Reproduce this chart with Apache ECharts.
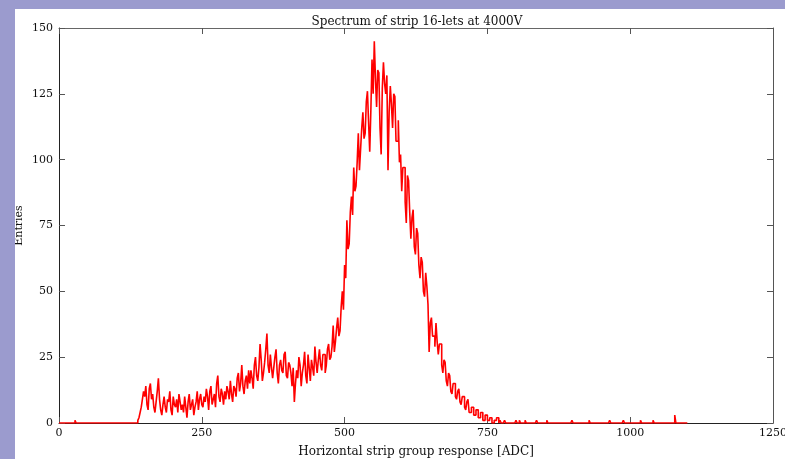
<!DOCTYPE html>
<html>
<head>
<meta charset="utf-8">
<script src="https://cdn.jsdelivr.net/npm/echarts@6/dist/echarts.min.js"></script>
<style>
  html, body { margin: 0; padding: 0; background: #9b9bce; }
  body { width: 785px; height: 459px; position: relative; overflow: hidden; }
  #chart { position: absolute; left: 15px; top: 9px; width: 770px; height: 450px; background: #ffffff; }
</style>
</head>
<body>
<div id="chart"></div>
<script>
// Histogram of strip-group response, 2 ADC counts per bin
var binWidth = 2;
var histMin = 0;
var histMax = 1100;

// Bulk of the spectrum, first bin starts at 136 ADC (20 bins per row)
var mainStart = 136;
var mainCounts = [
  0, 1, 2, 4, 6, 9, 12, 10, 14, 7, 5, 13, 15, 9, 11, 6, 4, 8, 12, 17,                 // 136-174
  9, 5, 3, 7, 10, 6, 4, 9, 8, 12, 5, 3, 10, 7, 6, 9, 4, 11, 8, 5,                      // 176-214
  7, 4, 10, 6, 2, 8, 11, 5, 7, 9, 3, 6, 8, 12, 5, 9, 11, 7, 6, 10,                     // 216-254
  8, 13, 10, 5, 12, 14, 7, 9, 11, 6, 15, 18, 10, 8, 13, 11, 7, 12, 9, 14,              // 256-294
  12, 9, 16, 11, 8, 14, 13, 10, 17, 19, 12, 15, 22, 14, 11, 16, 18, 13, 20, 15,        // 296-334
  20, 17, 13, 22, 25, 18, 16, 21, 30, 24, 16, 19, 23, 28, 34, 22, 19, 26, 21, 17,      // 336-374
  21, 25, 28, 19, 15, 22, 24, 20, 19, 26, 27, 18, 17, 23, 22, 19, 14, 21, 8, 15,       // 376-414
  20, 17, 25, 22, 14, 19, 22, 27, 18, 15, 26, 21, 16, 24, 21, 18, 29, 23, 19, 24,      // 416-454
  28, 22, 20, 26, 26, 19, 22, 28, 30, 24, 25, 29, 37, 27, 31, 36, 40, 33, 35, 44,      // 456-494
  50, 43, 60, 55, 77, 66, 68, 80, 86, 79, 97, 88, 90, 99, 110, 96, 104, 112, 118, 108, // 496-534
  110, 122, 126, 114, 103, 119, 138, 125, 145, 131, 120, 134, 133, 112, 102, 127, 137, 129, 125, 132, // 536-574
  96, 118, 128, 121, 112, 125, 124, 107, 107, 115, 99, 102, 88, 97, 97, 84, 76, 94, 92, 80,           // 576-614
  70, 78, 81, 67, 64, 74, 72, 60, 55, 63, 61, 50, 48, 57, 52, 45, 27, 38, 40, 33,      // 616-654
  33, 29, 38, 31, 26, 30, 30, 22, 19, 24, 23, 16, 14, 19, 18, 12, 11, 15, 15, 10,      // 656-694
  9, 12, 13, 8, 7, 10, 10, 6, 5, 8, 9, 4, 4, 6, 6, 3, 3, 5, 5, 2,                      // 696-734
  2, 4, 4, 1, 1, 3, 3, 1, 1, 2, 2, 0, 0, 1, 1, 2, 2, 0, 1, 0                           // 736-774
];

// Isolated entries outside the bulk: [bin start ADC, count]
var sparseBins = [
  [28, 1], [780, 1], [800, 1], [806, 1], [816, 1], [836, 1], [854, 1],
  [898, 1], [928, 1], [964, 1], [988, 1], [1018, 1], [1040, 1], [1078, 3]
];

var xTicks = [0, 250, 500, 750, 1000, 1250];
var yTicks = [0, 25, 50, 75, 100, 125, 150];

// Assemble the full binned histogram
var nBins = Math.round((histMax - histMin) / binWidth);
var counts = new Array(nBins).fill(0);
mainCounts.forEach(function (c, i) {
  counts[Math.round((mainStart - histMin) / binWidth) + i] = c;
});
sparseBins.forEach(function (b) {
  counts[Math.round((b[0] - histMin) / binWidth)] = b[1];
});
var stepData = counts.map(function (c, i) { return [histMin + i * binWidth, c]; });
stepData.push([histMax, 0]);

var serif = 'DejaVu Serif';
var frameColor = '#222222';
var tickColor = '#555555';

var chart = echarts.init(document.getElementById('chart'), null, { renderer: 'canvas' });
chart.setOption({
  animation: false,
  backgroundColor: '#ffffff',
  title: {
    text: 'Spectrum of strip 16-lets at 4000V',
    left: 412 - 15, top: 2,
    textAlign: 'center',
    textStyle: { fontFamily: serif, fontSize: 12, fontWeight: 'normal', color: '#111' }
  },
  grid: { left: 44, top: 19, right: 12, bottom: 36, containLabel: false, outerBoundsMode: 'none' },
  xAxis: [{
    type: 'value', min: xTicks[0], max: xTicks[xTicks.length - 1], interval: 250,
    position: 'bottom',
    name: 'Horizontal strip group response [ADC]',
    nameLocation: 'middle', nameGap: 23, nameMoveOverlap: false,
    nameTextStyle: { fontFamily: serif, fontSize: 12, color: '#111' },
    axisLine: { show: true, onZero: false, lineStyle: { color: frameColor, width: 1 } },
    axisTick: { show: true, inside: true, length: 6, lineStyle: { color: tickColor } },
    axisLabel: { fontFamily: serif, fontSize: 11, color: '#111', margin: 5, formatter: function (v) { return String(v); } },
    splitLine: { show: false }
  }, {
    type: 'value', min: xTicks[0], max: xTicks[xTicks.length - 1], interval: 250,
    position: 'top',
    axisLine: { show: true, onZero: false, lineStyle: { color: '#666', width: 1 } },
    axisTick: { show: true, inside: true, length: 6, lineStyle: { color: tickColor } },
    axisLabel: { show: false },
    splitLine: { show: false }
  }],
  yAxis: [{
    type: 'value', min: yTicks[0], max: yTicks[yTicks.length - 1], interval: 25,
    position: 'left',
    name: 'Entries', nameLocation: 'middle', nameGap: 34, nameRotate: 90, nameMoveOverlap: false,
    nameTextStyle: { fontFamily: serif, fontSize: 11, color: '#111' },
    axisLine: { show: true, onZero: false, lineStyle: { color: frameColor, width: 1 } },
    axisTick: { show: true, inside: true, length: 6, lineStyle: { color: tickColor } },
    axisLabel: { fontFamily: serif, fontSize: 11, color: '#111', margin: 6 },
    splitLine: { show: false }
  }, {
    type: 'value', min: yTicks[0], max: yTicks[yTicks.length - 1], interval: 25,
    position: 'right',
    axisLine: { show: true, onZero: false, lineStyle: { color: '#555', width: 1 } },
    axisTick: { show: true, inside: true, length: 6, lineStyle: { color: tickColor } },
    axisLabel: { show: false },
    splitLine: { show: false }
  }],
  series: [{
    type: 'line',
    step: 'end',
    data: stepData,
    showSymbol: false,
    symbol: 'none',
    lineStyle: { color: '#ff0000', width: 1.6 },
    z: 3
  }]
});
</script>
</body>
</html>
